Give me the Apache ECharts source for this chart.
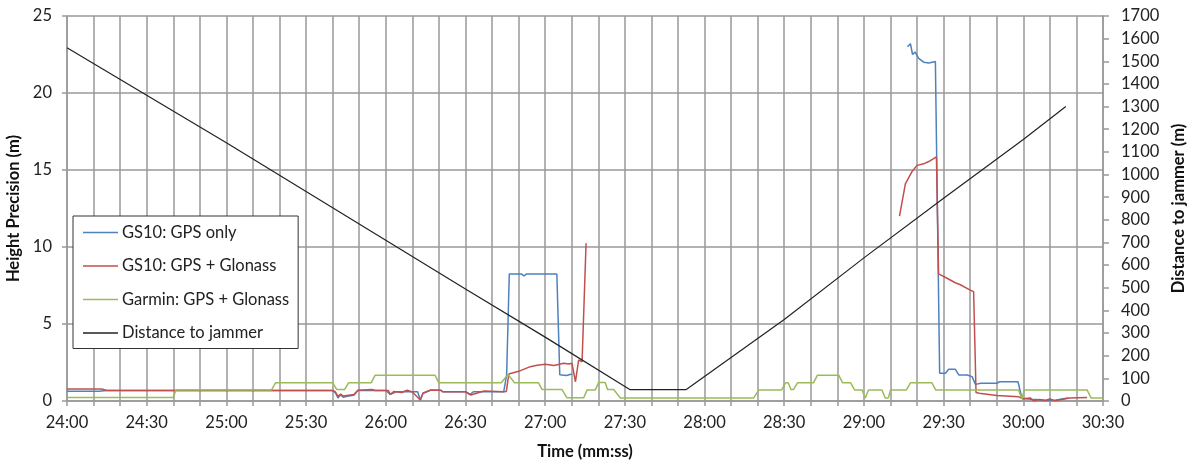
<!DOCTYPE html>
<html>
<head>
<meta charset="utf-8">
<script src="https://cdn.jsdelivr.net/npm/echarts@6/dist/echarts.min.js"></script>
<style>
html,body{margin:0;padding:0;background:#fff;}
#c{width:1204px;height:464px;}
</style>
</head>
<body>
<div id="c"></div>
<script>
// Time in seconds (24:00 = 1440 s)
var xTicks = [1440, 1470, 1500, 1530, 1560, 1590, 1620, 1650, 1680, 1710, 1740, 1770, 1800, 1830];

var blueT = [1440,1452,1455,1540,1541,1542,1543,1544,1546,1548,1549.5,1560,1561.7,1564,1572,1573,1574,1576.8,1580.6,1581.5,1590,1591.8,1593,1604.4,1605.5,1606.5,1611,1612,1613,1624.4,1625.5,1628,1630.1,1640,
             1756.4,1757.5,1758.3,1759.3,1760.6,1762.5,1764.4,1766.9,1768.5,1770.7,1771.9,1774.4,1775.7,1778.9,1780.7,1782,1784,1790,1791,1798,1799.5,1803,1805,1808,1812,1815,1817];
var blueV = [0.64,0.64,0.68,0.68,0.55,0.2,0.4,0.25,0.33,0.38,0.68,0.68,0.43,0.6,0.6,0.06,0.5,0.7,0.7,0.6,0.6,0.43,0.6,0.6,1.7,8.25,8.25,8.12,8.25,8.25,1.7,1.65,1.75,null,
             23.0,23.2,22.5,22.65,22.25,22.0,21.95,22.05,1.8,1.8,2.06,2.06,1.69,1.69,1.58,1.08,1.15,1.15,1.25,1.25,0.17,0.12,0.1,0.02,0.05,0.15,0.2];

var redT = [1440,1453,1455,1540,1541,1542,1543,1544,1546,1548,1549.5,1554.8,1556,1561,1561.7,1563,1566,1568,1570,1573,1574,1576.8,1580.6,1581.5,1590,1592,1597,1604.4,1605.4,1606.3,1610.7,1614.4,1617,1620,1623.3,1627,1628.8,1630.1,1631.4,1632.6,1633.9,1635.4,1700,
            1753.4,1755.6,1758.1,1760,1762.5,1764.4,1767.3,1768.1,1771.3,1774.4,1776.3,1780,1781.3,1782.2,1783.4,1790,1798.2,1799.6,1802.6,1803.9,1806,1808.5,1810,1812,1817.4,1824];
var redV = [0.78,0.78,0.68,0.68,0.6,0.3,0.45,0.32,0.38,0.42,0.7,0.75,0.68,0.68,0.43,0.62,0.55,0.7,0.58,0.06,0.5,0.71,0.7,0.6,0.6,0.39,0.65,0.6,0.62,1.75,1.97,2.23,2.32,2.38,2.3,2.45,2.4,2.45,1.25,2.66,2.55,10.24,null,
            12.0,14.1,14.9,15.3,15.4,15.55,15.85,8.25,7.97,7.68,7.55,7.2,7.1,0.55,0.5,0.35,0.28,0.15,0.2,0.0,0.1,0.05,0.13,0.02,0.2,0.22];

var greenT = [1440,1480,1481,1517,1518.5,1540,1541.5,1544.5,1546,1554.5,1556,1578.5,1580,1603.5,1606,1608.5,1617.5,1618.8,1626.3,1628.2,1634.5,1635.8,1638.9,1640.1,1642.6,1643.5,1645.8,1648.3,1698.5,1700.5,1709,1710.5,1711.5,1712.5,1713.5,1715,1721,1722.5,1730.5,1732,1735,1736.5,1739.3,1740.5,1741.7,1746.8,1748,1749.2,1750,1756,1757.5,1765.6,1767,1798.2,1799.5,1800.4,1824,1825.5,1830];
var greenV = [0.22,0.22,0.72,0.72,1.18,1.18,0.75,0.75,1.18,1.18,1.68,1.68,1.18,1.18,1.72,1.18,1.18,0.75,0.75,0.21,0.21,0.72,0.72,1.2,1.2,0.75,0.75,0.2,0.2,0.72,0.72,1.18,1.18,0.75,0.75,1.18,1.18,1.68,1.68,1.18,1.18,0.72,0.72,0.2,0.72,0.72,0.2,0.2,0.72,0.72,1.18,1.18,0.72,0.72,0.15,0.72,0.72,0.2,0.2];

var distT = [1440,1470,1500,1530,1560,1590,1620,1652,1673,1710,1740,1770,1800,1816];
var distV = [1560,1350,1140,925,710,495,282,50,50,360,632,895,1155,1300];

function pairs(t, v){
  var out = [];
  for (var i = 0; i < t.length; i++) out.push([t[i], v[i] === null ? '-' : v[i]]);
  return out;
}
function fmtTime(v){
  if (xTicks.indexOf(v) < 0) return '';
  var m = Math.floor(v/60), s = v % 60;
  return m + ':' + (s < 10 ? '0' + s : s);
}

var FONT = 'Lato';
var FS = 16.5;
var chart = echarts.init(document.getElementById('c'), null, {renderer:'canvas'});
chart.setOption({
  animation:false,
  backgroundColor:'#fff',
  textStyle:{fontFamily:FONT},
  grid:{left:67, right:101, top:16, bottom:63, containLabel:false, outerBoundsMode:'none'},
  legend:{
    orient:'vertical', left:73, top:216,
    backgroundColor:'#fff', borderColor:'#333', borderWidth:1,
    padding:[8,9,7,10], icon:'rect', itemWidth:35, itemHeight:1.5, itemGap:16.5,
    textStyle:{fontFamily:FONT, fontSize:FS, color:'#222', padding:[0,0,0,-1]},
    data:['GS10: GPS only','GS10: GPS + Glonass','Garmin: GPS + Glonass','Distance to jammer']
  },
  xAxis:{
    type:'value', min:1440, max:1830, interval:10,
    name:'Time (mm:ss)', nameLocation:'middle', nameGap:42,
    nameTextStyle:{fontFamily:FONT, fontSize:FS, fontWeight:'bold', color:'#111'},
    axisLine:{show:true, onZero:false, lineStyle:{color:'#999', width:1.5}},
    axisTick:{show:true, length:5, lineStyle:{color:'#999', width:1.5}},
    axisLabel:{formatter:fmtTime, fontSize:FS, color:'#222', margin:13, showMinLabel:true, showMaxLabel:true},
    splitLine:{show:true, lineStyle:{color:'#999', width:1.5}}
  },
  yAxis:[{
    type:'value', min:0, max:25, interval:5,
    name:'Height Precision (m)', nameLocation:'middle', nameGap:31, nameRotate:90,
    nameTextStyle:{fontFamily:FONT, fontSize:FS, fontWeight:'bold', color:'#111'},
    axisLine:{show:true, lineStyle:{color:'#999', width:1.5}},
    axisTick:{show:true, length:5, lineStyle:{color:'#999', width:1.5}},
    axisLabel:{fontSize:FS, color:'#222', margin:15},
    splitLine:{show:true, lineStyle:{color:'#999', width:1.5}}
  },{
    type:'value', min:0, max:1700, interval:100, position:'right',
    name:'Distance to jammer (m)', nameLocation:'middle', nameGap:53, nameRotate:90,
    nameTextStyle:{fontFamily:FONT, fontSize:FS, fontWeight:'bold', color:'#111'},
    axisLine:{show:true, lineStyle:{color:'#999', width:1.5}},
    axisTick:{show:true, length:6, lineStyle:{color:'#999', width:1.5}},
    axisLabel:{fontSize:FS, color:'#222', margin:18, formatter:function(v){return String(v);}},
    splitLine:{show:false}
  }],
  series:[
    {name:'GS10: GPS only', type:'line', yAxisIndex:0, symbol:'none', connectNulls:false,
     lineStyle:{color:'#4F81BD', width:1.5}, itemStyle:{color:'#4F81BD'}, data:pairs(blueT, blueV)},
    {name:'GS10: GPS + Glonass', type:'line', yAxisIndex:0, symbol:'none', connectNulls:false,
     lineStyle:{color:'#C0504D', width:1.5}, itemStyle:{color:'#C0504D'}, data:pairs(redT, redV)},
    {name:'Garmin: GPS + Glonass', type:'line', yAxisIndex:0, symbol:'none',
     lineStyle:{color:'#9BBB59', width:1.5}, itemStyle:{color:'#9BBB59'}, data:pairs(greenT, greenV)},
    {name:'Distance to jammer', type:'line', yAxisIndex:1, symbol:'none',
     lineStyle:{color:'#222', width:1.2}, itemStyle:{color:'#222'}, data:pairs(distT, distV)}
  ]
});
</script>
</body>
</html>
